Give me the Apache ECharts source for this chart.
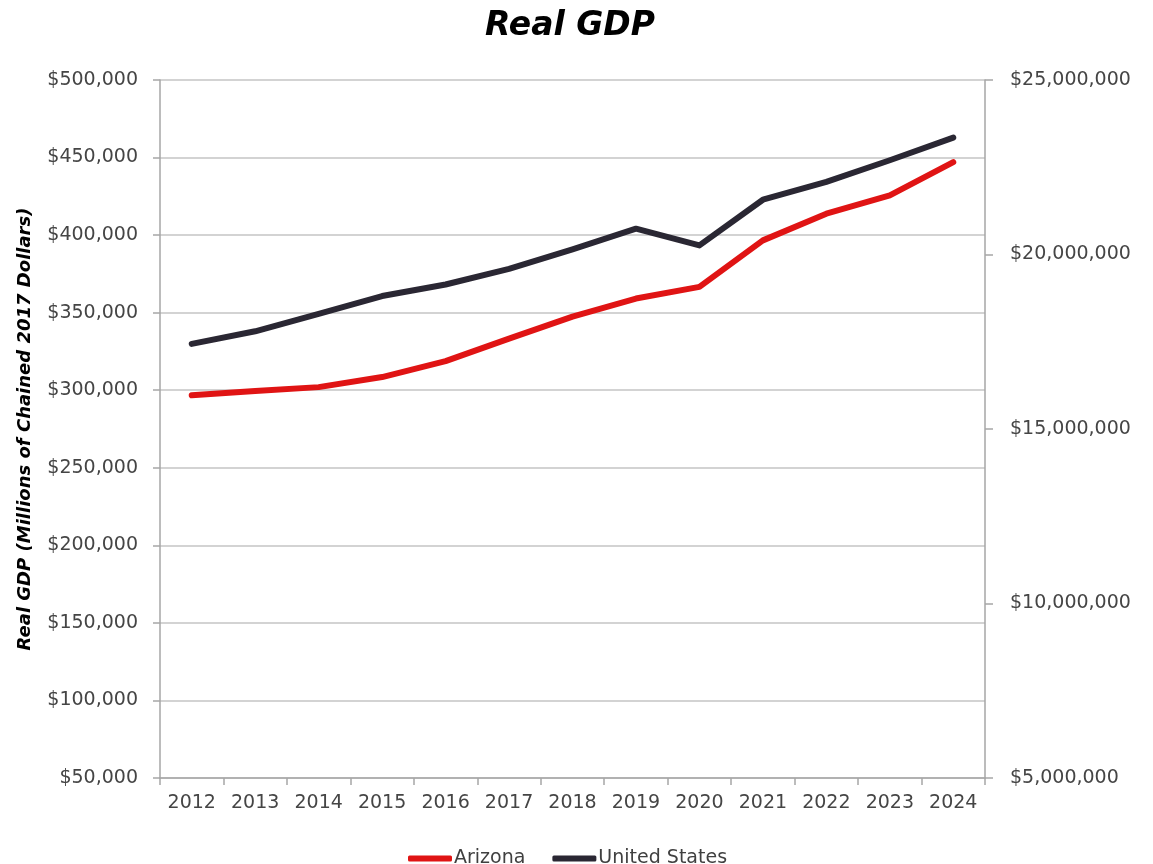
<!DOCTYPE html>
<html>
<head>
<meta charset="utf-8">
<script src="https://cdn.jsdelivr.net/npm/echarts@6/dist/echarts.min.js"></script>
<style>html,body{margin:0;padding:0;background:#fff}#c{width:1153px;height:864px}</style>
</head>
<body>
<div id="c"></div>
<script>
const years = ['2012','2013','2014','2015','2016','2017','2018','2019','2020','2021','2022','2023','2024'];
const arizona = [296800, 299500, 302000, 308500, 318800, 333300, 347500, 359100, 366600, 396600, 413800, 425600, 447100];
const unitedStates = [17440000, 17800000, 18300000, 18810000, 19140000, 19590000, 20150000, 20740000, 20260000, 21570000, 22080000, 22700000, 23350000];
const leftTicks = {min: 50000, max: 500000, interval: 50000};
const rightTicks = {min: 5000000, max: 25000000, interval: 5000000};

const fmt = v => '$' + v.toLocaleString('en-US');
const chart = echarts.init(document.getElementById('c'));
const axisGray = '#a6a6a6';
const labelStyle = {fontFamily: 'DejaVu Sans', fontSize: 19, color: '#454545'};
chart.setOption({
  backgroundColor: '#fff',
  animation: false,
  title: {
    text: 'Real GDP', left: 480, top: 5,
    textStyle: {fontFamily: 'DejaVu Sans', fontSize: 33, fontWeight: 'bold', fontStyle: 'italic', color: '#000'}
  },
  legend: {
    left: 403, top: 844, itemWidth: 44, itemHeight: 6, itemGap: 27,
    icon: 'roundRect',
    textStyle: {fontFamily: 'DejaVu Sans', fontSize: 19, color: '#404040', padding: [0, 0, 0, -3]},
    data: ['Arizona', 'United States']
  },
  grid: {left: 160, right: 168, top: 80, bottom: 86},
  xAxis: {
    type: 'category', data: years, boundaryGap: true,
    axisLine: {lineStyle: {color: axisGray, width: 1.5}},
    axisTick: {show: true, length: 7, lineStyle: {color: axisGray, width: 1.5}},
    axisLabel: Object.assign({margin: 16}, labelStyle)
  },
  yAxis: [{
    type: 'value', position: 'left', min: leftTicks.min, max: leftTicks.max, interval: leftTicks.interval,
    name: 'Real GDP (Millions of Chained 2017 Dollars)', nameLocation: 'middle', nameGap: 126, nameRotate: 90,
    nameTextStyle: {fontFamily: 'DejaVu Sans', fontSize: 18, fontWeight: 'bold', fontStyle: 'italic', color: '#000'},
    axisLine: {show: true, lineStyle: {color: axisGray, width: 1.5}},
    axisTick: {show: true, length: 7, lineStyle: {color: axisGray, width: 1.5}},
    splitLine: {show: true, lineStyle: {color: '#c4c4c4', width: 1.5}},
    axisLabel: Object.assign({margin: 22, formatter: fmt}, labelStyle)
  }, {
    type: 'value', position: 'right', min: rightTicks.min, max: rightTicks.max, interval: rightTicks.interval,
    axisLine: {show: true, lineStyle: {color: axisGray, width: 1.5}},
    axisTick: {show: true, length: 8, lineStyle: {color: axisGray, width: 1.5}},
    splitLine: {show: false},
    axisLabel: Object.assign({margin: 25, formatter: fmt}, labelStyle)
  }],
  series: [{
    name: 'Arizona', type: 'line', yAxisIndex: 0, data: arizona,
    showSymbol: false, symbol: 'none', color: '#e01414',
    lineStyle: {width: 6, color: '#e01414', cap: 'round', join: 'round'}
  }, {
    name: 'United States', type: 'line', yAxisIndex: 1, data: unitedStates,
    showSymbol: false, symbol: 'none', color: '#2a2733',
    lineStyle: {width: 6, color: '#2a2733', cap: 'round', join: 'round'}
  }]
});
</script>
</body>
</html>
